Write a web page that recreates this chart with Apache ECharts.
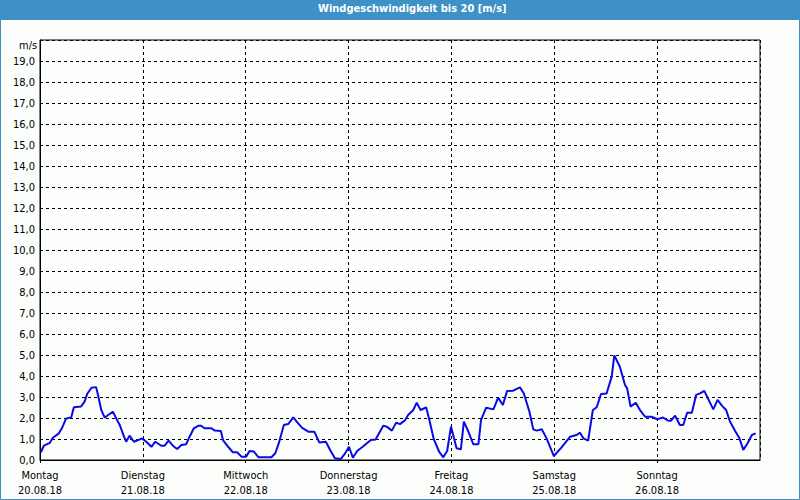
<!DOCTYPE html>
<html>
<head>
<meta charset="utf-8">
<script src="https://cdn.jsdelivr.net/npm/echarts@6/dist/echarts.min.js"></script>
<style>
html,body{margin:0;padding:0;background:#fcfefc;}
#chart{width:800px;height:500px;}
</style>
</head>
<body>
<div id="chart"></div>
<script>
// Day labels (x-axis ticks every 24 h)
var dayNames = ['Montag', 'Dienstag', 'Mittwoch', 'Donnerstag', 'Freitag', 'Samstag', 'Sonntag'];
var dayDates = ['20.08.18', '21.08.18', '22.08.18', '23.08.18', '24.08.18', '25.08.18', '26.08.18'];

// Time in hours since Monday 20.08.18 00:00
var hours = [0.2, 0.9, 2.3, 3.0, 4.4, 5.1, 6.1, 7.3, 7.9, 9.6, 10.4, 11.0, 12.0, 13.1, 13.7, 14.3, 15.1, 15.9, 17.0, 17.8,
  18.6, 19.6, 20.1, 20.9, 21.9, 22.9, 23.8, 24.8, 26.0, 26.9, 28.3, 29.1, 30.0, 31.0, 32.0, 33.0, 34.1, 34.9, 35.9, 36.9,
  37.6, 38.4, 40.0, 40.8, 42.2, 42.7, 43.9, 45.0, 46.0, 47.0, 48.1, 48.9, 49.9, 51.0, 54.0, 54.9, 55.7, 56.9, 57.9, 59.1,
  59.9, 61.1, 62.6, 64.0, 65.2, 66.7, 67.7, 68.8, 70.2, 71.2, 72.1, 73.0, 74.0, 75.3, 77.2, 78.3, 80.1, 80.9, 82.1, 83.1,
  84.0, 85.2, 85.9, 87.1, 87.9, 88.8, 90.1, 90.8, 91.9, 93.2, 94.1, 95.0, 95.9, 96.6, 97.2, 98.2, 98.9, 99.9, 101.1, 102.3,
  102.9, 104.1, 105.8, 106.9, 108.0, 109.0, 110.4, 112.0, 112.9, 114.2, 115.1, 115.9, 117.1, 118.2, 119.9, 121.7, 123.7, 125.2, 126.0, 126.8,
  127.9, 129.0, 129.9, 130.9, 132.2, 133.4, 134.0, 135.3, 136.5, 137.0, 137.8, 139.0, 140.0, 141.2, 142.7, 144.0, 145.4, 146.6, 147.2, 148.2,
  149.3, 150.1, 151.0, 152.1, 153.1, 154.0, 155.0, 157.1, 158.1, 159.1, 160.1, 161.0, 162.2, 163.2, 164.1, 165.0, 166.1, 167.0];

// Wind speed in m/s
var speed = [0.37, 0.68, 0.82, 1.06, 1.27, 1.51, 1.98, 2.03, 2.51, 2.55, 2.78, 3.14, 3.44, 3.47, 2.94, 2.38, 2.02, 2.14, 2.30, 1.98,
  1.67, 1.11, 0.87, 1.16, 0.87, 0.95, 1.03, 0.87, 0.63, 0.87, 0.68, 0.68, 0.92, 0.68, 0.52, 0.71, 0.75, 1.11, 1.51, 1.63,
  1.63, 1.51, 1.51, 1.40, 1.38, 0.95, 0.63, 0.37, 0.37, 0.16, 0.16, 0.43, 0.40, 0.13, 0.13, 0.32, 0.79, 1.67, 1.71, 2.03,
  1.83, 1.54, 1.35, 1.35, 0.83, 0.87, 0.48, 0.08, 0.05, 0.32, 0.63, 0.11, 0.43, 0.63, 0.95, 0.98, 1.63, 1.59, 1.40, 1.78,
  1.71, 1.90, 2.14, 2.38, 2.73, 2.38, 2.51, 1.95, 0.98, 0.37, 0.13, 0.43, 1.59, 1.03, 0.56, 0.51, 1.83, 1.38, 0.75, 0.75,
  1.90, 2.49, 2.41, 2.97, 2.62, 3.29, 3.30, 3.46, 3.17, 2.30, 1.46, 1.40, 1.46, 1.03, 0.19, 0.60, 1.11, 1.19, 1.30, 1.03,
  0.92, 2.38, 2.51, 3.14, 3.17, 3.97, 4.98, 4.44, 3.57, 3.41, 2.54, 2.73, 2.38, 2.06, 2.06, 1.94, 2.02, 1.87, 1.87, 2.11,
  1.67, 1.67, 2.25, 2.25, 3.10, 3.17, 3.29, 2.41, 2.86, 2.59, 2.38, 1.83, 1.38, 1.03, 0.48, 0.76, 1.19, 1.27];

var seriesData = hours.map(function (h, i) { return [h, speed[i]]; });

var FONT = '"DejaVu Sans Condensed", "DejaVu Sans", sans-serif';
var chart = echarts.init(document.getElementById('chart'), null, {renderer: 'svg'});
chart.setOption({
  backgroundColor: '#fcfefc',
  animation: false,
  title: {
    text: 'Windgeschwindigkeit bis 20 [m/s]',
    left: 318, top: 3,
    padding: 0,
    textStyle: {color: '#ffffff', fontSize: 11, fontWeight: 'bold', fontFamily: FONT}
  },
  graphic: [
    {type: 'rect', z: -10, silent: true, shape: {x: 0, y: 0, width: 800, height: 20}, style: {fill: '#3d91c4'}},
    {type: 'rect', z: -10, silent: true, shape: {x: 0.5, y: 0.5, width: 799, height: 499}, style: {fill: 'none', stroke: '#3d91c4', lineWidth: 1}},
    {type: 'text', left: 19, top: 40, silent: true, style: {text: 'm/s', fill: '#000000', font: '11px ' + FONT}}
  ],
  grid: {left: 40, right: 40, top: 40, bottom: 40, show: true, borderColor: '#000000', borderWidth: 1, backgroundColor: 'transparent'},
  xAxis: {
    type: 'value', min: 0, max: 168, interval: 24,
    axisLine: {show: true, lineStyle: {color: '#000000', width: 1}},
    axisTick: {show: true, length: 3, lineStyle: {color: '#000000'}},
    splitLine: {show: true, lineStyle: {color: '#000000', type: [3, 3], width: 1}},
    axisLabel: {
      color: '#000000', fontSize: 11, fontFamily: FONT, lineHeight: 15, margin: 8,
      showMaxLabel: false,
      formatter: function (v) {
        var i = Math.round(v / 24);
        if (i >= dayNames.length) return '';
        return dayNames[i] + '\n' + dayDates[i];
      }
    }
  },
  yAxis: {
    type: 'value', min: 0, max: 20, interval: 1,
    axisLine: {show: true, lineStyle: {color: '#000000', width: 1}},
    axisTick: {show: false},
    splitLine: {show: true, lineStyle: {color: '#000000', type: [3, 3], width: 1}},
    axisLabel: {
      color: '#000000', fontSize: 11, fontFamily: FONT, margin: 5,
      formatter: function (v) { return v >= 20 ? '' : v.toFixed(1).replace('.', ','); }
    }
  },
  series: [{
    type: 'line',
    data: seriesData,
    showSymbol: false,
    smooth: false,
    lineStyle: {color: '#0a0ae6', width: 2},
    itemStyle: {color: '#0a0ae6'}
  }]
});
</script>
</body>
</html>
